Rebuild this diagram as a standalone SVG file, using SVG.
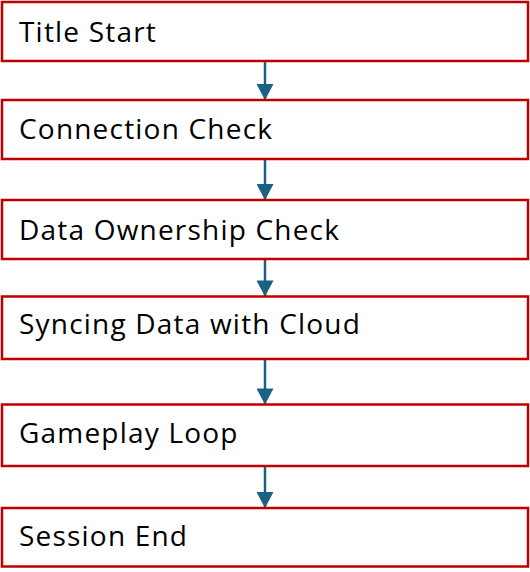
<svg xmlns="http://www.w3.org/2000/svg" width="530" height="572" viewBox="0 0 530 572">
<style>
.box{fill:#fff;stroke:#C00000;stroke-width:2.5}
.lbl{font-family:"Open Sans","Noto Sans",sans-serif;font-size:28px;letter-spacing:1.2px;fill:#000}
.conn{stroke:#1B6184;stroke-width:2.5;fill:none}
</style>
<defs>
<marker id="ah" markerUnits="userSpaceOnUse" markerWidth="18" markerHeight="17" refX="17" refY="9" orient="auto" viewBox="0 0 17 18">
<path d="M0,0 L17,9 L0,18 Z" fill="#1B6184"/>
</marker>
</defs>
<rect width="530" height="572" fill="#fff"/>
<g id="connectors">
<line class="conn" x1="265" y1="61" x2="265" y2="100" marker-end="url(#ah)"/>
<line class="conn" x1="265" y1="159" x2="265" y2="200" marker-end="url(#ah)"/>
<line class="conn" x1="265" y1="259" x2="265" y2="296.5" marker-end="url(#ah)"/>
<line class="conn" x1="265" y1="359" x2="265" y2="404.5" marker-end="url(#ah)"/>
<line class="conn" x1="265" y1="466" x2="265" y2="508" marker-end="url(#ah)"/>
</g>
<g id="n1"><rect class="box" x="2" y="2" width="526" height="59"/><text class="lbl" x="19" y="41.7">Title Start</text></g>
<g id="n2"><rect class="box" x="2" y="100" width="526" height="59"/><text class="lbl" x="19" y="139.3">Connection Check</text></g>
<g id="n3"><rect class="box" x="2" y="200" width="526" height="59"/><text class="lbl" x="19" y="240">Data Ownership Check</text></g>
<g id="n4"><rect class="box" x="2" y="296.5" width="526" height="62.5"/><text class="lbl" x="19" y="334.3">Syncing Data with Cloud</text></g>
<g id="n5"><rect class="box" x="2" y="404.5" width="526" height="61.5"/><text class="lbl" x="19" y="442.7">Gameplay Loop</text></g>
<g id="n6"><rect class="box" x="2" y="508" width="526" height="58.5"/><text class="lbl" x="19" y="545.7">Session End</text></g>
</svg>
